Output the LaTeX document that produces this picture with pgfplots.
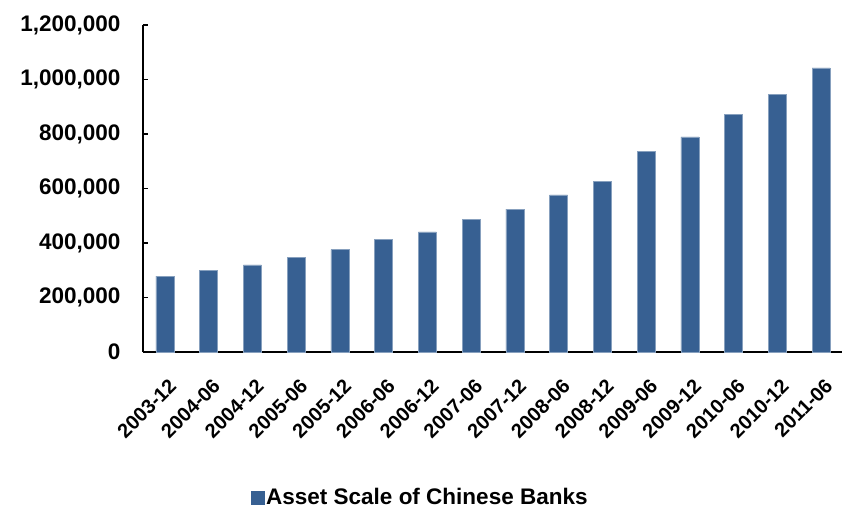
\documentclass[border=0pt]{standalone}
\usepackage{pgfplots}
\pgfplotsset{compat=1.18}
\usepackage{fontspec}
\setmainfont{Liberation Sans}
\definecolor{barblue}{HTML}{376092}
\begin{document}
\begin{tikzpicture}
\useasboundingbox (-143bp,-158bp) rectangle (699bp,352bp);
\begin{axis}[
  scale only axis,
  width=700bp, height=327bp,
  xmin=-0.5, xmax=15.5,
  ymin=0, ymax=1200000,
  axis lines*=left,
  axis line style={line width=1.6bp, black},
  ytick={0,200000,400000,600000,800000,1000000,1200000},
  scaled y ticks=false,
  yticklabel style={/pgf/number format/fixed, /pgf/number format/1000 sep={,}, /pgf/number format/assume math mode=true, font=\fontsize{22.5bp}{24bp}\selectfont\bfseries, xshift=-19bp},
  xtick={0,...,15},
  xticklabels={2003-12,2004-06,2004-12,2005-06,2005-12,2006-06,2006-12,2007-06,2007-12,2008-06,2008-12,2009-06,2009-12,2010-06,2010-12,2011-06},
  xticklabel style={font=\fontsize{20bp}{22bp}\selectfont\bfseries, rotate=45, anchor=north east, xshift=-9bp, yshift=-13bp},
  extra x ticks={-0.5,0.5,1.5,2.5,3.5,4.5,5.5,6.5,7.5,8.5,9.5,10.5,11.5,12.5,13.5,14.5},
  extra x tick labels={},
  extra x tick style={major tick length=5bp, tick style={line width=1.6bp, black}},
  major x tick style={draw=none},
  tick align=inside,
  major tick length=5bp,
  tick style={line width=1.6bp, black},
  ybar, bar width=18bp,
  legend style={at={(0.396,-0.443)}, anchor=center, draw=none, font=\fontsize{22.5bp}{24bp}\selectfont\bfseries},
]
\addplot[fill=barblue, draw=barblue!60!white, line width=0.4bp,
  legend image code/.code={\fill[barblue] (0bp,-7bp) rectangle (13bp,6bp);}] coordinates {
(0,278000) (1,300000) (2,320000) (3,347000) (4,376000) (5,414000) (6,441000) (7,487000)
(8,524000) (9,577000) (10,625000) (11,737000) (12,789000) (13,873000) (14,946000) (15,1043000)
};
\addlegendentry{Asset Scale of Chinese Banks}
\end{axis}
\end{tikzpicture}
\end{document}
